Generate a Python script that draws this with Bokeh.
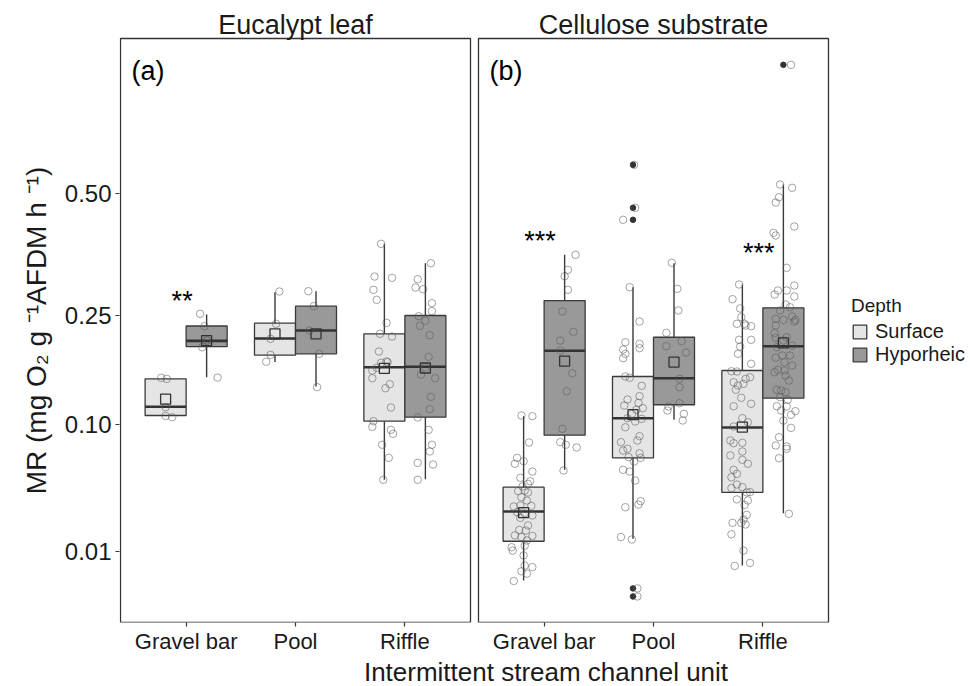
import numpy as np
from bokeh.plotting import figure
from bokeh.models import (ColumnDataSource, FixedTicker, CustomJSTickFormatter,
                          Legend, LegendItem, Range1d)
from bokeh.core.properties import value
from bokeh.embed import file_html
from bokeh.resources import INLINE

# ---------------- data ----------------
substrates = ["Eucalypt leaf", "Cellulose substrate"]
units = ["Gravel bar", "Pool", "Riffle"]
depths = ["Surface", "Hyporheic"]
panel_tags = ["(a)", "(b)"]
y_tick_values = [0.01, 0.10, 0.25, 0.50]

# box statistics, group order: substrate -> unit -> depth (Surface, Hyporheic)
q1 = [0.1095, 0.2007, 0.1878, 0.1898, 0.1032, 0.1076,
      0.0138, 0.0885, 0.0671, 0.1219, 0.0401, 0.1298]
median = [0.1195, 0.2095, 0.2131, 0.2258, 0.1705, 0.1711,
          0.0282, 0.1943, 0.1065, 0.1554, 0.0964, 0.2012]
q3 = [0.1546, 0.2332, 0.2378, 0.2668, 0.2205, 0.2507,
      0.0438, 0.2768, 0.1577, 0.2151, 0.1659, 0.2640]
whisker_low = [0.1095, 0.1568, 0.1780, 0.1445, 0.0492, 0.0496,
               0.0026, 0.0570, 0.0148, 0.1047, 0.0058, 0.0272]
whisker_high = [0.1546, 0.2524, 0.2920, 0.2937, 0.3874, 0.3475,
                0.1087, 0.3645, 0.3011, 0.3475, 0.3062, 0.5229]
mean = [0.1286, 0.2099, 0.2205, 0.2205, 0.1689, 0.1694,
        0.0276, 0.1790, 0.1106, 0.1776, 0.0969, 0.2064]

# individual observations (and their jitter offsets, in category widths)
leaf_gb_s = [0.156, 0.1546, 0.119, 0.109, 0.1076]
leaf_gb_s_jit = [-0.04, 0.01, 0.0, 0.0, 0.06]
leaf_gb_h = [0.2536, 0.2328, 0.2099, 0.2099, 0.1997, 0.1563]
leaf_gb_h_jit = [-0.06, -0.02, 0.0, 0.01, -0.04, 0.10]
leaf_pool_s = [0.2931, 0.2368, 0.2126, 0.1883, 0.1782]
leaf_pool_s_jit = [0.04, 0.01, -0.04, -0.04, -0.08]
leaf_pool_h = [0.2937, 0.2668, 0.2258, 0.1898, 0.1437]
leaf_pool_h_jit = [-0.07, -0.02, -0.06, 0.03, 0.01]
leaf_riffle_s = [0.3874, 0.3214, 0.3189, 0.2963, 0.2781, 0.2384, 0.2205, 0.2162, 0.1932,
                 0.1786, 0.1767, 0.1776, 0.1659, 0.1697, 0.1554, 0.1475, 0.1423, 0.1187,
                 0.1032, 0.0972, 0.0940, 0.0899, 0.0791, 0.0671, 0.0492]
leaf_riffle_s_jit = [-0.03, -0.09, 0.07, -0.10, -0.07, 0.02, -0.04, 0.07, -0.05, 0.02,
                     -0.03, 0.03, -0.11, -0.07, -0.11, 0.05, 0.01, 0.06, -0.10, -0.11,
                     0.06, 0.08, -0.02, 0.04, -0.01]
leaf_riffle_h = [0.3475, 0.3162, 0.3005, 0.2974, 0.2721, 0.2581, 0.2495, 0.2418, 0.2335,
                 0.2183, 0.1854, 0.1705, 0.1604, 0.1554, 0.1315, 0.1167, 0.1073, 0.0940,
                 0.0791, 0.0728, 0.0614, 0.0628, 0.0492]
leaf_riffle_h_jit = [0.05, -0.07, -0.09, -0.02, 0.06, 0.06, -0.06, 0.00, -0.05, 0.04,
                     0.03, 0.00, -0.04, 0.09, 0.05, 0.04, -0.07, 0.03, 0.06, 0.04,
                     0.07, -0.07, -0.07]
cell_gb_s = [0.1095, 0.1087, 0.0813, 0.0671, 0.0642, 0.0620, 0.0556, 0.0507, 0.0481,
             0.0462, 0.0443, 0.0414, 0.0410, 0.0401, 0.0369, 0.0348, 0.0311, 0.0317,
             0.0315, 0.0278, 0.0272, 0.0260, 0.0247, 0.0208, 0.0187, 0.0184, 0.0162,
             0.0155, 0.0160, 0.0141, 0.0121, 0.0115, 0.0103, 0.0087, 0.0058, 0.0054,
             0.0044, 0.0039, 0.0025]
cell_gb_s_jit = [-0.02, 0.08, 0.05, -0.06, 0.00, -0.08, 0.08, -0.03, 0.06, 0.04, -0.01,
                 0.01, -0.05, 0.04, -0.02, 0.03, -0.09, -0.03, 0.07, -0.06, 0.01, 0.08,
                 -0.03, 0.04, -0.04, 0.02, -0.08, -0.02, 0.08, 0.03, 0.01, -0.11, -0.10,
                 0.00, 0.01, 0.08, -0.02, 0.03, -0.09]
cell_gb_h = [0.3645, 0.3344, 0.3219, 0.2963, 0.2576, 0.2237, 0.2099, 0.1947, 0.1622,
             0.1385, 0.0951, 0.0816, 0.0791, 0.0765, 0.0564]
cell_gb_h_jit = [0.10, 0.03, 0.00, 0.03, -0.02, 0.08, -0.04, -0.04, 0.07, 0.02, -0.02,
                 -0.04, 0.01, 0.11, -0.01]
cell_pool_s = [0.5723, 0.4672, 0.4398, 0.3011, 0.2406, 0.2073, 0.2049, 0.1982, 0.1962,
               0.1898, 0.1834, 0.1577, 0.1560, 0.1454, 0.1282, 0.1323, 0.1210, 0.1242,
               0.1179, 0.1160, 0.1114, 0.1058, 0.1065, 0.1029, 0.0967, 0.0875, 0.0832,
               0.0816, 0.0753, 0.0737, 0.0712, 0.0671, 0.0677, 0.0639, 0.0570, 0.0556,
               0.0486, 0.0344, 0.0323, 0.0307, 0.0155, 0.0145, 0.0014, 0.00056]
cell_pool_s_jit = [0.01, 0.02, -0.09, -0.03, 0.06, -0.07, 0.06, 0.06, -0.09, -0.07, -0.09,
                   -0.07, -0.03, 0.08, -0.05, 0.06, -0.08, 0.05, 0.09, 0.03, -0.01, 0.08,
                   -0.05, 0.02, -0.07, 0.06, 0.04, -0.11, -0.05, -0.09, 0.06, 0.07, -0.04,
                   0.01, -0.09, -0.03, 0.02, 0.07, 0.05, -0.07, -0.11, -0.01, 0.04, 0.04]
cell_pool_h = [0.3483, 0.2981, 0.2593, 0.2221, 0.2012, 0.2089, 0.1917, 0.1546, 0.1436,
               0.1238, 0.1199, 0.1152, 0.1114, 0.1040]
cell_pool_h_jit = [-0.02, 0.03, 0.04, -0.07, -0.07, 0.07, 0.11, 0.05, 0.05, 0.05, -0.05,
                   -0.06, 0.09, 0.08]
cell_riffle_s = [0.3062, 0.2792, 0.2628, 0.2478, 0.2368, 0.2368, 0.2340, 0.2328, 0.2111,
                 0.2111, 0.2007, 0.1898, 0.1753, 0.1649, 0.1645, 0.1567, 0.1546, 0.1501,
                 0.1480, 0.1458, 0.1403, 0.1303, 0.1202, 0.1231, 0.1065, 0.1021, 0.0975,
                 0.0832, 0.0806, 0.0810, 0.0692, 0.0728, 0.0620, 0.0654, 0.0570, 0.0538,
                 0.0511, 0.0431, 0.0457, 0.0438, 0.0403, 0.0401, 0.0355, 0.0348, 0.0321,
                 0.0263, 0.0238, 0.0221, 0.0221, 0.0213, 0.0167, 0.0103, 0.0065, 0.0057]
cell_riffle_s_jit = [-0.03, -0.09, -0.02, -0.01, -0.05, 0.02, 0.03, 0.08, -0.03, 0.08,
                     -0.02, -0.04, 0.08, -0.10, -0.05, 0.07, 0.03, -0.08, 0.01, -0.04,
                     -0.06, -0.01, -0.08, 0.08, 0.00, 0.05, -0.08, -0.11, -0.08, 0.00,
                     -0.11, 0.00, 0.05, 0.00, -0.08, -0.05, -0.10, -0.10, -0.05, 0.00,
                     0.07, 0.04, -0.05, 0.05, 0.02, 0.04, 0.01, -0.09, -0.01, 0.03,
                     -0.10, 0.01, 0.07, -0.07]
cell_riffle_h = [0.8580, 0.5229, 0.5148, 0.4921, 0.4796, 0.4248, 0.4110, 0.4051, 0.3384,
                 0.2950, 0.2876, 0.2950, 0.3043, 0.2840, 0.2698, 0.2650, 0.2593, 0.2451,
                 0.2434, 0.2490, 0.2434, 0.2340, 0.2404, 0.2215, 0.2151, 0.2142, 0.2099,
                 0.2022, 0.1997, 0.1873, 0.1873, 0.1840, 0.1776, 0.1729, 0.1669, 0.1659,
                 0.1635, 0.1590, 0.1523, 0.1394, 0.1403, 0.1373, 0.1310, 0.1279, 0.1202,
                 0.1199, 0.1152, 0.1144, 0.1103, 0.1039, 0.0961, 0.0865, 0.0784, 0.0775,
                 0.0753, 0.0668, 0.0269]
cell_riffle_h_jit = [0.07, -0.03, 0.08, -0.04, -0.07, 0.10, -0.09, -0.07, 0.03, -0.05,
                     -0.08, 0.03, 0.10, 0.10, 0.02, 0.06, -0.03, -0.07, 0.00, 0.08, 0.11,
                     -0.07, 0.10, -0.08, 0.03, -0.07, 0.00, 0.08, -0.06, -0.01, 0.06,
                     -0.07, 0.01, 0.08, -0.05, 0.01, -0.08, 0.02, 0.05, -0.02, -0.06,
                     0.02, -0.03, 0.04, -0.06, 0.03, -0.02, 0.11, 0.07, 0.00, 0.07, -0.04,
                     -0.07, 0.03, 0.03, -0.04, 0.05]

# boxplot outliers
cell_pool_s_out = [0.5723, 0.4672, 0.4398, 0.0014, 0.00056]
cell_riffle_h_out = [0.858]

# significance labels
sig_labels = ["**", "***", "***"]
sig_substrate = [0, 1, 1]
sig_unit = [0, 0, 2]
sig_value = [0.283, 0.4015, 0.377]

point_sets = [leaf_gb_s, leaf_gb_h, leaf_pool_s, leaf_pool_h, leaf_riffle_s, leaf_riffle_h,
              cell_gb_s, cell_gb_h, cell_pool_s, cell_pool_h, cell_riffle_s, cell_riffle_h]
jit_sets = [leaf_gb_s_jit, leaf_gb_h_jit, leaf_pool_s_jit, leaf_pool_h_jit,
            leaf_riffle_s_jit, leaf_riffle_h_jit, cell_gb_s_jit, cell_gb_h_jit,
            cell_pool_s_jit, cell_pool_h_jit, cell_riffle_s_jit, cell_riffle_h_jit]
outlier_sets = {8: cell_pool_s_out, 11: cell_riffle_h_out}

# ---------------- geometry / style ----------------
FONT = "Liberation Sans"
TXT = "#1a1a1a"
EDGE = "#3a3a3a"
fills = {"Surface": "#e5e5e5", "Hyporheic": "#999999"}
PANEL_W = 3.2
GAP = 0.0731
panel_x0 = [0.4, 0.4 + PANEL_W + GAP]
panel_x1 = [x + PANEL_W for x in panel_x0]
dodge = [-0.1875, 0.1875]
BOX_W = 0.375
Y_LO, Y_HI = -0.0204, 0.971          # sqrt-scale panel limits
PX_Y = 589.0                          # px per sqrt unit
PX_X = 109.375                        # px per category unit
FRAME_W, FRAME_H = 853, 615
STRIP_H = 31


def unit_x(si, ui):
    return panel_x0[si] + 0.6 + ui


sq = np.sqrt
groups = [(si, ui, di) for si in range(2) for ui in range(3) for di in range(2)]
centers = [unit_x(si, ui) + dodge[di] for (si, ui, di) in groups]

y_end = Y_HI + STRIP_H / PX_Y
x_start = 0.4 - 1 / PX_X
p = figure(frame_width=FRAME_W, frame_height=FRAME_H, output_backend="svg",
           toolbar_location=None,
           x_range=Range1d(x_start, x_start + FRAME_W / PX_X),
           y_range=Range1d(y_end - FRAME_H / PX_Y, y_end),
           min_border=0, min_border_left=119, min_border_top=7, min_border_right=0)
p.outline_line_color = None
p.grid.visible = False
p.background_fill_color = "white"

# panel frames
p.quad(left=panel_x0, right=panel_x1, bottom=[Y_LO, Y_LO], top=[Y_HI, Y_HI],
       fill_color=None, line_color="#333333", line_width=1.3)

# whiskers
p.segment(x0=centers, x1=centers, y0=sq(whisker_low), y1=sq(whisker_high),
          line_color=EDGE, line_width=1.4)

# boxes
box_renderers = []
for di, d in enumerate(depths):
    idx = [i for i, g in enumerate(groups) if g[2] == di]
    src = ColumnDataSource(dict(
        left=[centers[i] - BOX_W / 2 for i in idx],
        right=[centers[i] + BOX_W / 2 for i in idx],
        bottom=[sq(q1[i]) for i in idx],
        top=[sq(q3[i]) for i in idx]))
    r = p.quad(left="left", right="right", bottom="bottom", top="top", source=src,
               fill_color=fills[d], line_color=EDGE, line_width=1.3)
    box_renderers.append(r)

# medians
p.segment(x0=[c - BOX_W / 2 for c in centers], x1=[c + BOX_W / 2 for c in centers],
          y0=sq(median), y1=sq(median), line_color="#333333", line_width=2.6)

# outliers
ox, oy = [], []
for gi, vals in outlier_sets.items():
    ox += [centers[gi]] * len(vals)
    oy += list(sq(vals))
p.scatter(ox, oy, marker="circle", size=5.5, fill_color="#333333", line_color="#333333")

# jittered observations
px, py = [], []
for gi, (vals, jit) in enumerate(zip(point_sets, jit_sets)):
    px += [centers[gi] + j for j in jit]
    py += list(sq(vals))
p.scatter(px, py, marker="circle", size=7.5, fill_color=None, line_color="#595959",
          line_alpha=0.55, line_width=1)

# means
p.scatter(centers, sq(mean), marker="square", size=10, fill_color=None,
          line_color="#333333", line_width=1.3)

# significance stars
p.text(x=[unit_x(s, u) for s, u in zip(sig_substrate, sig_unit)], y=sq(sig_value),
       text=sig_labels, text_font=value(FONT), text_font_size="27px", text_color="black",
       text_align="center", text_baseline="middle", x_offset=-4, y_offset=4)

# panel tags
p.text(x=[x + 0.1 for x in panel_x0], y=[Y_HI - 32 / PX_Y] * 2, text=panel_tags,
       text_font=value(FONT), text_font_size="27px", text_color="black",
       text_align="left", text_baseline="middle")

# strip titles
p.text(x=[(a + b) / 2 for a, b in zip(panel_x0, panel_x1)], y=[Y_HI + 14 / PX_Y] * 2,
       text=substrates, text_font=value(FONT), text_font_size="27px", text_color=TXT,
       text_align="center", text_baseline="alphabetic")

# axes
xt = [unit_x(si, ui) for si in range(2) for ui in range(3)]
p.xaxis.ticker = FixedTicker(ticks=xt)
p.xaxis.formatter = CustomJSTickFormatter(args=dict(xs=xt, labels=units * 2), code="""
for (let i = 0; i < xs.length; i++) { if (Math.abs(tick - xs[i]) < 1e-6) return labels[i]; }
return "";""")
p.xaxis.bounds = (panel_x0[0], panel_x1[1])
p.yaxis.ticker = FixedTicker(ticks=list(sq(y_tick_values)))
p.yaxis.formatter = CustomJSTickFormatter(code="return (tick*tick).toFixed(2);")
p.yaxis.bounds = (Y_LO, Y_HI)

for ax in (p.xaxis[0], p.yaxis[0]):
    ax.axis_line_color = None
    ax.major_tick_line_color = "#333333"
    ax.major_tick_line_width = 1.2
    ax.major_tick_out = 4
    ax.major_tick_in = 0
    ax.minor_tick_line_color = None
    ax.major_label_text_font = FONT
    ax.major_label_text_color = TXT
    ax.axis_label_text_font = FONT
    ax.axis_label_text_font_style = "normal"
    ax.axis_label_text_color = TXT

p.xaxis.major_label_text_font_size = "22px"
p.xaxis.major_label_standoff = 2
p.xaxis.axis_label = "Intermittent stream channel unit"
p.xaxis.axis_label_text_font_size = "26px"
p.xaxis.axis_label_standoff = 0

p.yaxis.major_label_text_font_size = "24px"
p.yaxis.major_label_standoff = 4
# trailing no-break spaces centre the title on the panels rather than on the strip area
p.yaxis.axis_label = "MR (mg O\u2082 g \u207b\u00b9AFDM h \u207b\u00b9)" + "\u00a0" * 4
p.yaxis.axis_label_text_font_size = "28px"
p.yaxis.axis_label_standoff = 10

legend = Legend(items=[LegendItem(label=d, renderers=[box_renderers[i]])
                       for i, d in enumerate(depths)],
                title="Depth", location=(732, 256))
legend.title_text_font = FONT
legend.title_text_font_size = "19px"
legend.title_text_font_style = "normal"
legend.title_text_color = TXT
legend.label_text_font = FONT
legend.label_text_font_size = "20px"
legend.label_text_color = TXT
legend.border_line_color = None
legend.background_fill_alpha = 0
legend.glyph_width = 17
legend.glyph_height = 17
legend.label_height = 18
legend.label_standoff = 7
legend.spacing = 0
legend.padding = 0
legend.margin = 0
legend.title_standoff = 3
p.add_layout(legend, "center")

open("out.html", "w").write(file_html(p, INLINE))
